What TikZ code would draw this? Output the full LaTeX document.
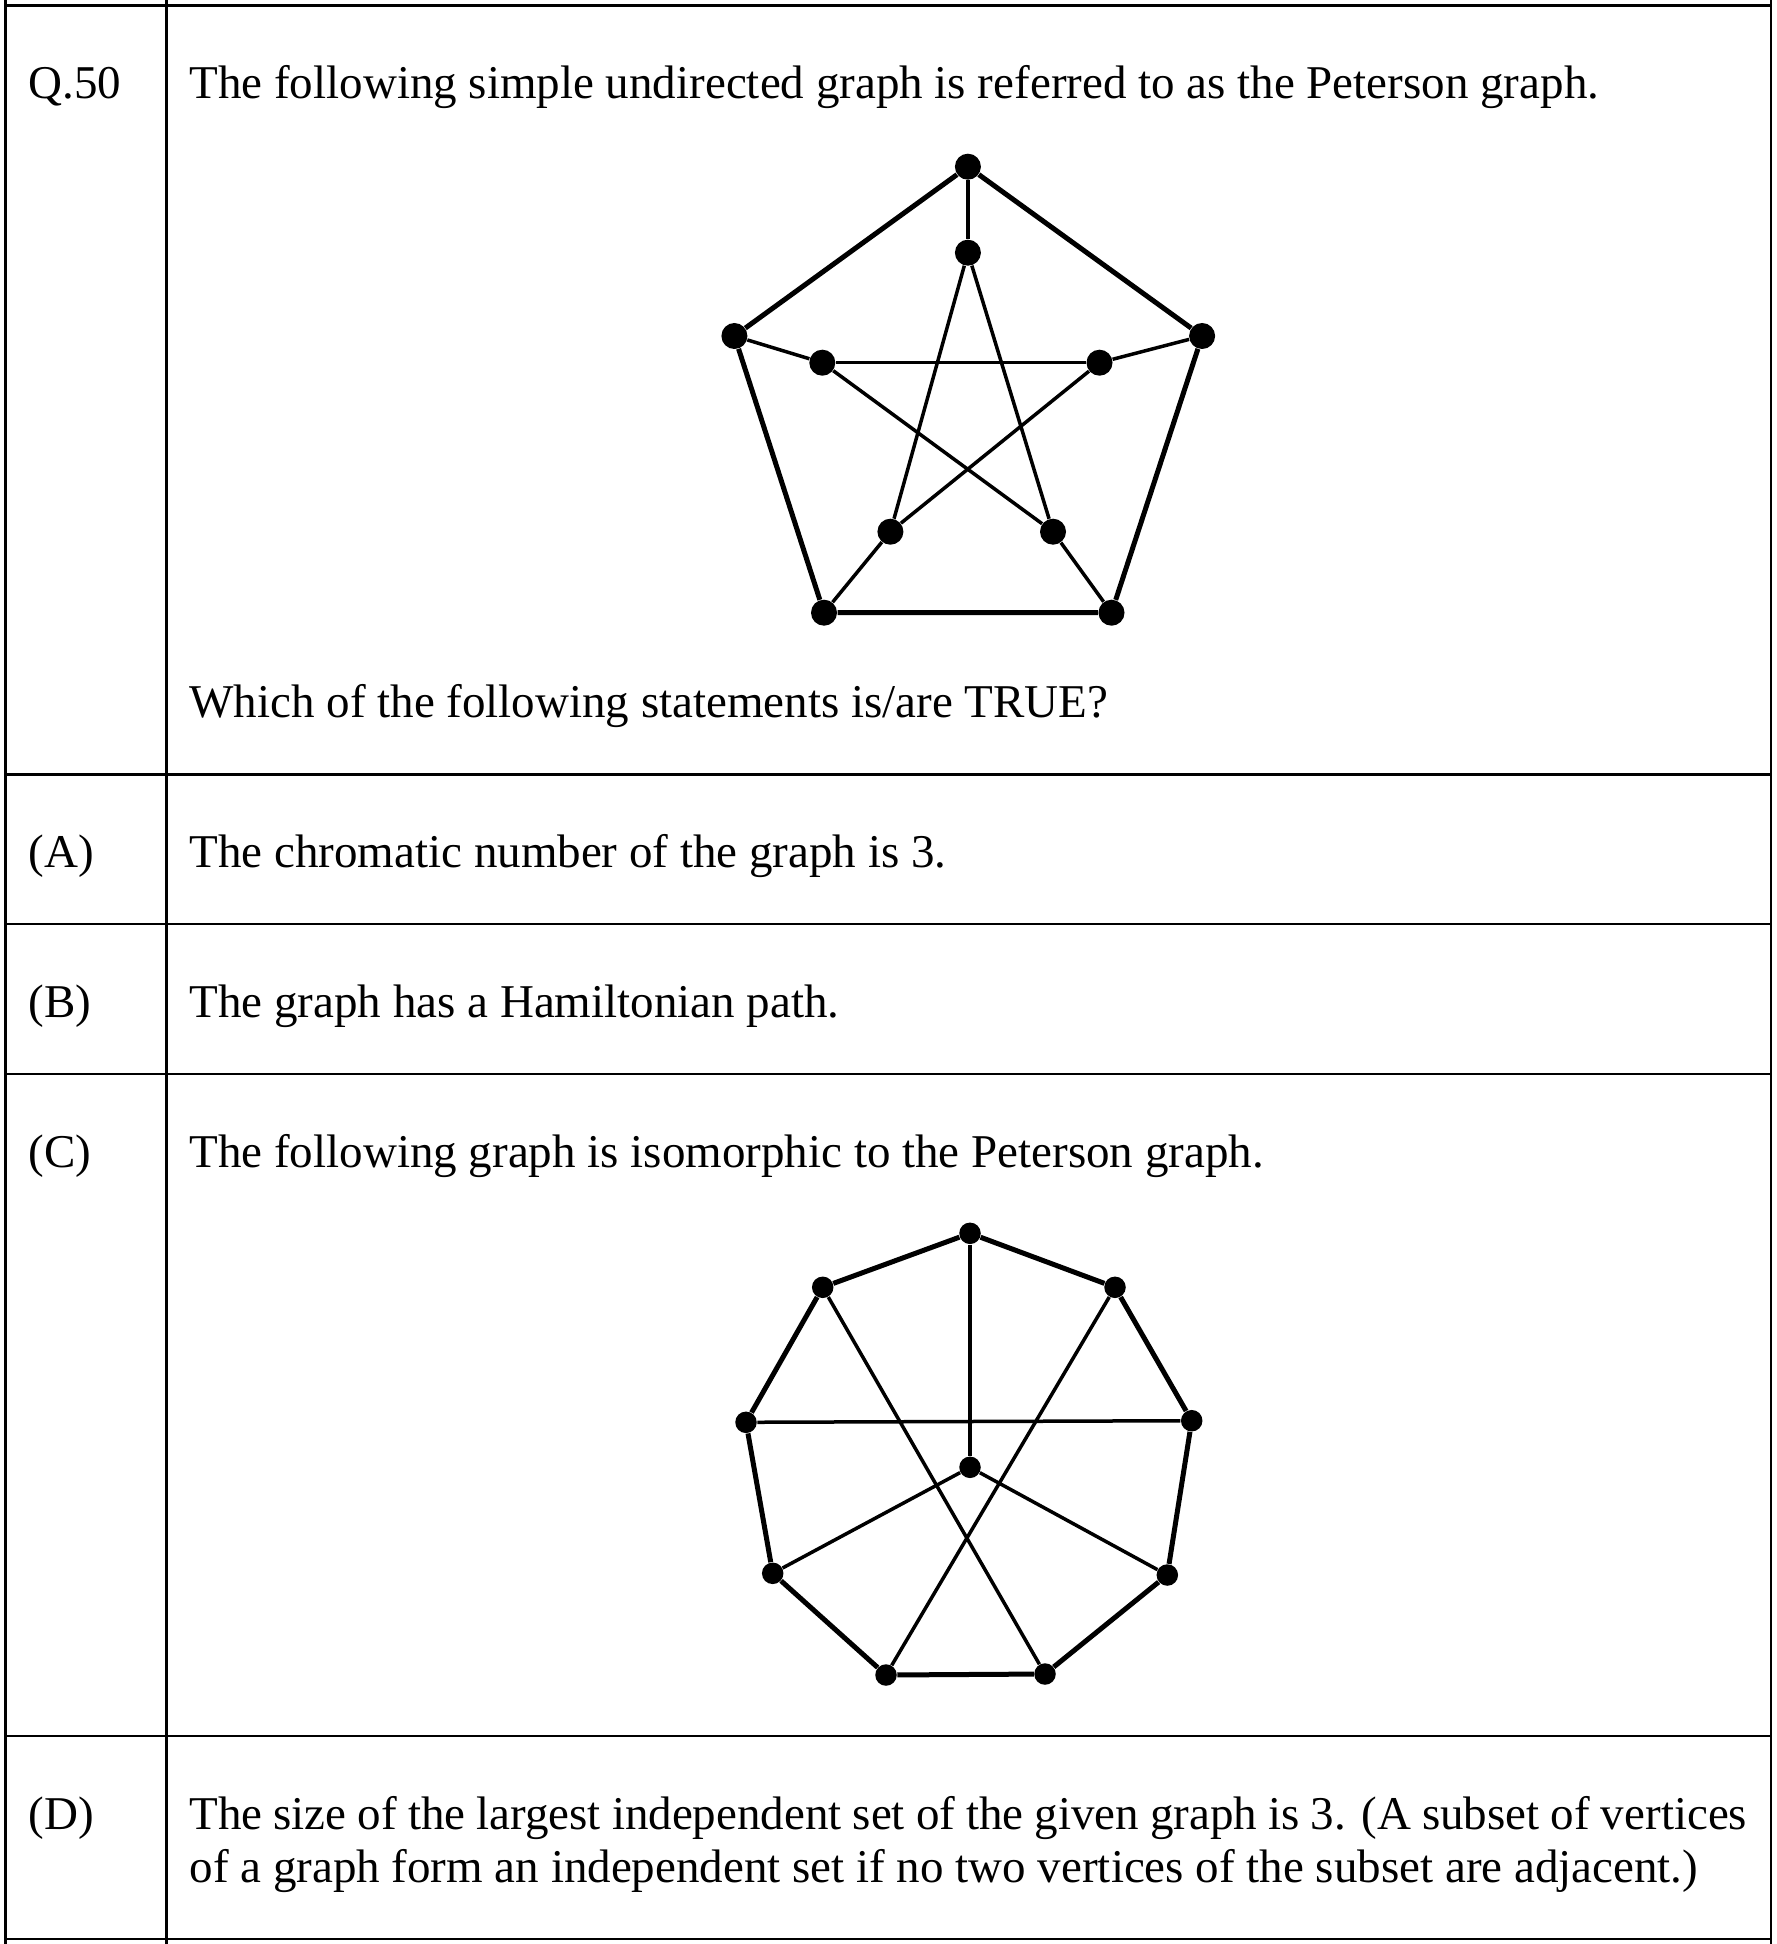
\documentclass[tikz,border=0pt]{standalone}
\usepackage{fontspec}
\setmainfont{Liberation Serif}
\begin{document}
\begin{tikzpicture}[x=0.4pt,y=-0.4pt,
  txt/.style={anchor=base west,inner sep=0pt,font=\fontsize{18.8}{17.6}\selectfont},
  rule/.style={line width=1.1pt},
  dotA/.style={circle,fill=black,inner sep=0pt,minimum size=10.4pt},
  dotB/.style={circle,fill=black,inner sep=0pt,minimum size=8.6pt},
  outer/.style={line width=2pt},
  inner/.style={line width=1.4pt}]
\useasboundingbox (0,0) rectangle (1777,1944);
% table
\draw[rule] (5.5,0) -- (5.5,1944);
\draw[rule] (166.7,0) -- (166.7,1944);
\draw[rule] (1771,0) -- (1771,1944);
\foreach \yy in {5.3,774.3,924,1074,1736,1939}
  \draw[rule] (5.5,\yy) -- (1771,\yy);
% texts
\node[txt] (q) at (28,99) {Q.50};
\node[txt] (qt) at (189,99) {The following simple undirected graph is referred to as the Peterson graph.};
\node[txt] (wh) at (189,717) {Which of the following statements is/are TRUE?};
\node[txt] (la) at (28,867) {(A)};
\node[txt] (ta) at (189,867) {The chromatic number of the graph is 3.};
\node[txt] (lb) at (28,1017) {(B)};
\node[txt] (tb) at (189,1017) {The graph has a Hamiltonian path.};
\node[txt] (lc) at (28,1167) {(C)};
\node[txt] (tc) at (189,1167) {The following graph is isomorphic to the Peterson graph.};
\node[txt] (ld) at (28,1829) {(D)};
\node[txt] (td1) at (189,1829) {\makebox[623pt][s]{The size of the largest independent set of the given graph is 3. (A subset of vertices}};
\node[txt] (td2) at (189,1882) {of a graph form an independent set if no two vertices of the subset are adjacent.)};
% Petersen graph
\node[dotA] (o1) at (967.9,166.7) {};
\node[dotA] (o2) at (1202.1,336) {};
\node[dotA] (o3) at (1111.5,612.7) {};
\node[dotA] (o4) at (824,612.7) {};
\node[dotA] (o5) at (734.4,336) {};
\node[dotA] (i1) at (967.9,252.7) {};
\node[dotA] (i2) at (1099.5,362.7) {};
\node[dotA] (i3) at (1053,531.7) {};
\node[dotA] (i4) at (890.4,531.7) {};
\node[dotA] (i5) at (822.3,362.7) {};
\draw[outer] (o1) -- (o2) -- (o3) -- (o4) -- (o5) -- (o1);
\draw[inner] (o1) -- (i1);
\draw[inner] (o2) -- (i2);
\draw[inner] (o3) -- (i3);
\draw[inner] (o4) -- (i4);
\draw[inner] (o5) -- (i5);
\draw[inner] (i1) -- (i3);
\draw[inner] (i1) -- (i4);
\draw[inner] (i2) -- (i4);
\draw[inner] (i2) -- (i5);
\draw[inner] (i5) -- (i3);
% second graph
\node[dotB] (v1) at (970,1233.3) {};
\node[dotB] (v2) at (822.7,1287.3) {};
\node[dotB] (v3) at (1115,1287.3) {};
\node[dotB] (v4) at (746,1422.3) {};
\node[dotB] (v5) at (1191.7,1420.7) {};
\node[dotB] (vc) at (970,1467.3) {};
\node[dotB] (v6) at (772.7,1573.3) {};
\node[dotB] (v7) at (1167.3,1575) {};
\node[dotB] (v8) at (886,1675) {};
\node[dotB] (v9) at (1045,1674) {};
\draw[outer] (v1) -- (v3) -- (v5) -- (v7) -- (v9) -- (v8) -- (v6) -- (v4) -- (v2) -- (v1);
\draw[inner] (v1) -- (vc);
\draw[inner] (vc) -- (v6);
\draw[inner] (vc) -- (v7);
\draw[inner] (v4) -- (v5);
\draw[inner] (v2) -- (v9);
\draw[inner] (v3) -- (v8);
\end{tikzpicture}
\end{document}
